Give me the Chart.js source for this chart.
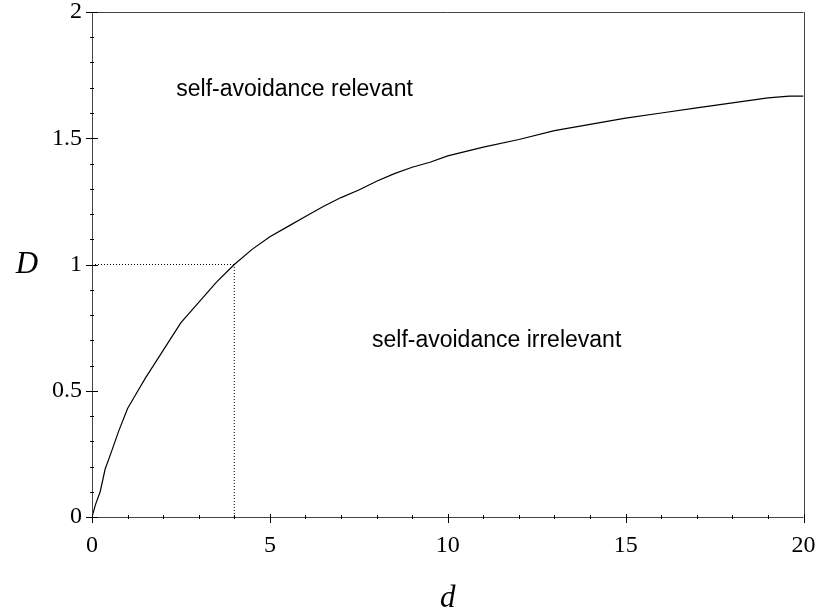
<!DOCTYPE html>
<html>
<head>
<meta charset="utf-8">
<script src="https://cdn.jsdelivr.net/npm/chart.js@4/dist/chart.umd.min.js"></script>
<style>
  html, body { margin: 0; padding: 0; background: #fff; }
  #wrap { width: 823px; height: 614px; }
</style>
</head>
<body>
<div id="wrap"><canvas id="c" width="823" height="614"></canvas></div>
<script>
// Crossover curve D(d)
const dValues = [0, 0.1, 0.23, 0.37, 0.5, 0.75, 1.0, 1.25, 1.5, 2.0, 2.5, 3.0, 3.5, 4.0, 4.5, 5.0,
  5.5, 6.0, 6.5, 7.0, 7.5, 8.0, 8.5, 9.0, 9.5, 10.0, 11.0, 12.0, 13.0, 14.0, 15.0, 16.0,
  17.0, 18.0, 19.0, 19.6, 20.0];
const DValues = [0, 0.05, 0.1, 0.19, 0.24, 0.34, 0.43, 0.49, 0.55, 0.66, 0.77, 0.85, 0.93, 1.0, 1.06, 1.11,
  1.15, 1.19, 1.23, 1.265, 1.295, 1.33, 1.36, 1.385, 1.405, 1.43, 1.465, 1.495, 1.53, 1.555, 1.58, 1.60,
  1.62, 1.64, 1.66, 1.667, 1.667];

// Marked crossing point (d = 4, D = 1)
const crossD = 4;
const crossVal = 1;

// Axis ranges, labelled ticks and minor ticks
const xTickLabels = [0, 5, 10, 15, 20];
const yTickLabels = [0, 0.5, 1, 1.5, 2];
const xMinorTicks = Array.from({length: 21}, (_, i) => i);
const yMinorTicks = Array.from({length: 21}, (_, i) => i / 10);

// Region labels
const regionLabels = [
  { text: 'self-avoidance relevant', d: 2.37, D: 1.692 },
  { text: 'self-avoidance irrelevant', d: 7.87, D: 0.7 }
];

const serif = '"Liberation Serif", "Times New Roman", serif';
const sans = '"Liberation Sans", Arial, sans-serif';

const framePlugin = {
  id: 'frame',
  afterDraw(chart) {
    const { ctx, chartArea: a, scales: { x, y } } = chart;
    ctx.save();
    // frame
    ctx.strokeStyle = '#444';
    ctx.lineWidth = 1;
    ctx.beginPath();
    ctx.moveTo(a.left - 5, Math.round(a.bottom) + 0.5);
    ctx.lineTo(a.right, Math.round(a.bottom) + 0.5);
    ctx.moveTo(Math.round(a.left) + 0.5, a.bottom);
    ctx.lineTo(Math.round(a.left) + 0.5, a.top);
    ctx.moveTo(a.left, Math.round(a.top) + 0.5);
    ctx.lineTo(a.right, Math.round(a.top) + 0.5);
    ctx.moveTo(Math.round(a.right) + 0.5, a.top);
    ctx.lineTo(Math.round(a.right) + 0.5, a.bottom + 6);
    ctx.stroke();

    // ticks
    ctx.strokeStyle = '#000';
    ctx.beginPath();
    xMinorTicks.forEach(v => {
      const px = Math.round(x.getPixelForValue(v)) + 0.5;
      const major = xTickLabels.includes(v);
      ctx.moveTo(px, a.bottom - (major ? 3 : 2));
      ctx.lineTo(px, a.bottom + (major ? 6 : 2));
    });
    yMinorTicks.forEach(v => {
      const py = Math.round(y.getPixelForValue(v)) + 0.5;
      const major = yTickLabels.some(t => Math.abs(t - v) < 1e-9);
      ctx.moveTo(a.left - (major ? 6 : 2), py);
      ctx.lineTo(a.left + (major ? 6 : 2), py);
    });
    ctx.stroke();

    // axis titles
    ctx.fillStyle = '#000';
    ctx.font = 'italic 31px ' + serif;
    ctx.textAlign = 'center';
    ctx.textBaseline = 'middle';
    ctx.fillText('D', 27, y.getPixelForValue(1));
    ctx.fillText('d', x.getPixelForValue(10), 599);

    // region labels
    ctx.font = '23px ' + sans;
    ctx.textAlign = 'left';
    regionLabels.forEach(r => {
      ctx.fillText(r.text, x.getPixelForValue(r.d), y.getPixelForValue(r.D));
    });
    ctx.restore();
  }
};

new Chart(document.getElementById('c'), {
  type: 'line',
  data: {
    datasets: [
      {
        data: dValues.map((d, i) => ({ x: d, y: DValues[i] })),
        borderColor: '#000',
        borderWidth: 1.2,
        pointRadius: 0,
        tension: 0,
        fill: false
      },
      {
        data: [{ x: 0, y: crossVal }, { x: crossD, y: crossVal }],
        borderColor: '#000',
        borderWidth: 1,
        borderDash: [1, 2],
        pointRadius: 0,
        fill: false
      },
      {
        data: [{ x: crossD, y: 0 }, { x: crossD, y: crossVal }],
        borderColor: '#000',
        borderWidth: 1,
        borderDash: [1, 2],
        pointRadius: 0,
        fill: false
      }
    ]
  },
  options: {
    responsive: false,
    animation: false,
    devicePixelRatio: 1,
    layout: { padding: { top: 12, right: 19.5, left: 0, bottom: 0 } },
    plugins: { legend: { display: false }, tooltip: { enabled: false } },
    scales: {
      x: {
        type: 'linear',
        min: 0,
        max: 20,
        afterBuildTicks: s => { s.ticks = xTickLabels.map(v => ({ value: v })); },
        afterFit: s => { s.height = 97; s.paddingLeft = 0; s.paddingRight = 0; },
        grid: { display: false },
        border: { display: false },
        ticks: {
          color: '#000', font: { family: serif, size: 24 }, padding: 6, maxRotation: 0,
          callback: v => String(v)
        }
      },
      y: {
        type: 'linear',
        min: 0,
        max: 2,
        afterBuildTicks: s => { s.ticks = yTickLabels.map(v => ({ value: v })); },
        afterFit: s => { s.width = 92; s.paddingTop = 0; s.paddingBottom = 0; },
        grid: { display: false },
        border: { display: false },
        ticks: {
          color: '#000', font: { family: serif, size: 24 }, padding: 2,
          callback: v => String(v)
        }
      }
    }
  },
  plugins: [framePlugin]
});
</script>
</body>
</html>
